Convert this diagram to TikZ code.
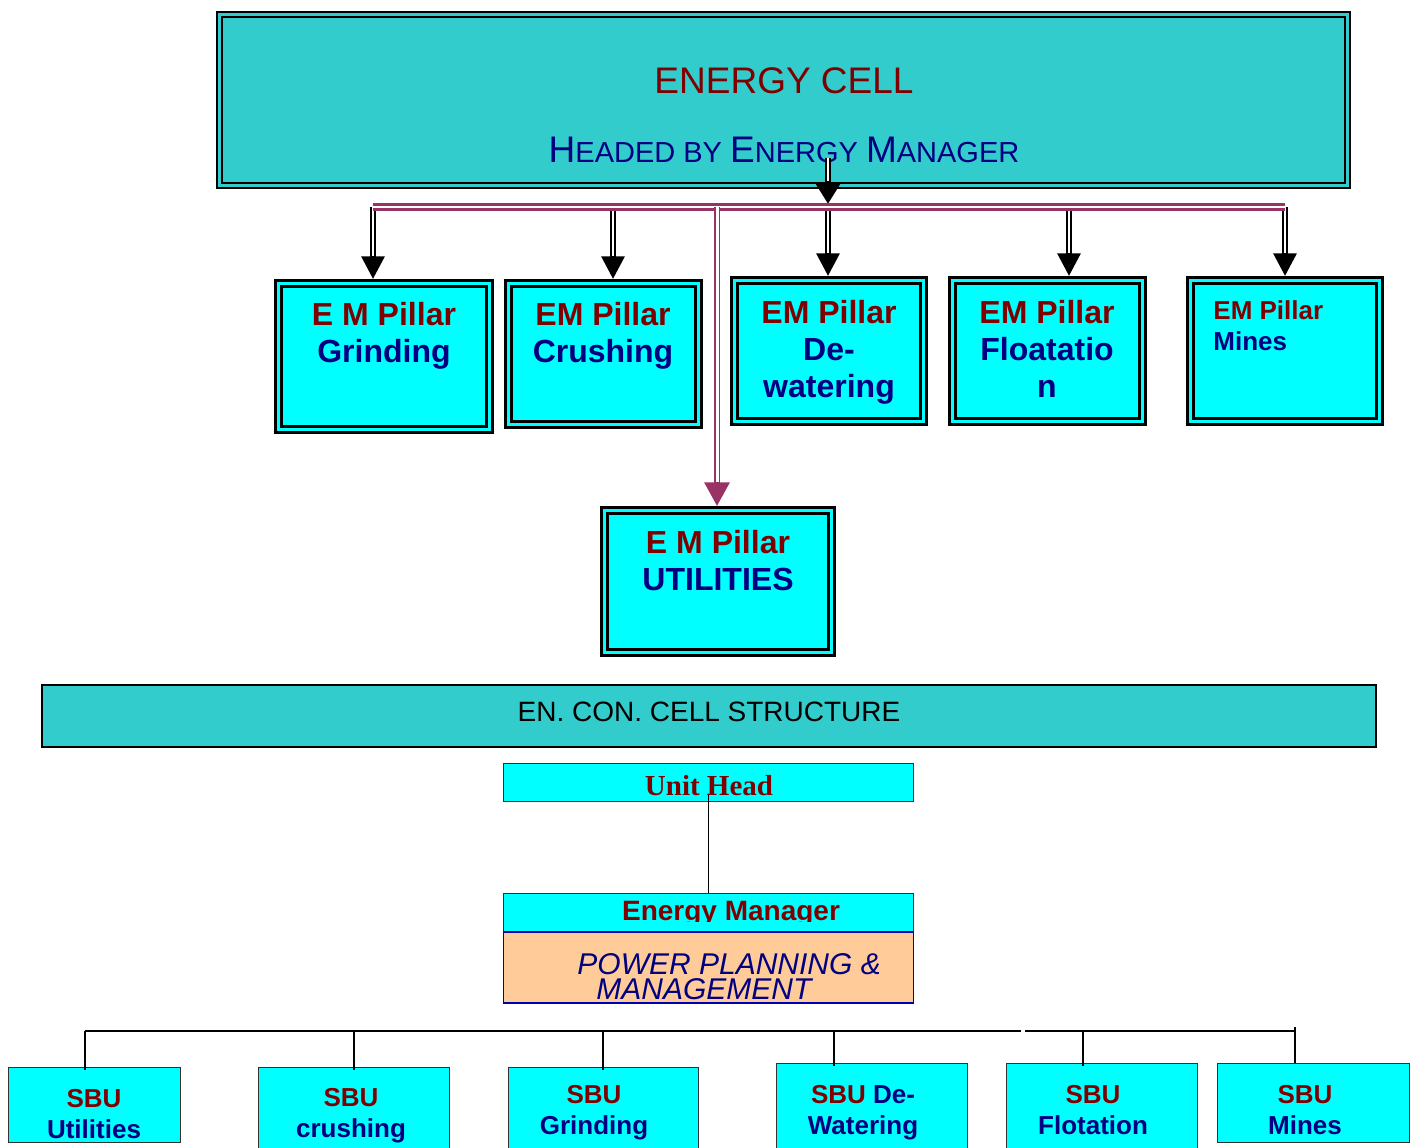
\documentclass[tikz,border=0pt]{standalone}
\usepackage{fontspec}
\setmainfont{Liberation Sans}
\newfontfamily\serifhead{Liberation Serif}
\usetikzlibrary{arrows.meta}

\definecolor{cellteal}{RGB}{51,204,204}
\definecolor{pillcyan}{RGB}{0,255,255}
\definecolor{emred}{RGB}{128,0,0}
\definecolor{emblue}{RGB}{0,0,128}
\definecolor{linkpurple}{RGB}{153,51,102}
\definecolor{peach}{RGB}{255,204,153}

\newcommand\redline[1]{\textcolor{emred}{#1}}
\newcommand\capl[1]{{\fontsize{18.5}{22}\selectfont #1}}

\tikzset{
  cellbox/.style={draw=black, fill=cellteal, line width=1.2pt, double=cellteal, double distance=1.2pt, inner sep=0pt},
  pillar/.style={draw=black, fill=pillcyan, line width=1.4pt, double=pillcyan, double distance=1.4pt, inner sep=0pt, outer sep=2.1pt},
  barbox/.style={draw=black, fill=cellteal, line width=1pt, inner sep=0pt},
  unitbox/.style={draw=black!80, fill=pillcyan, line width=0.75pt, inner sep=0pt},
  ppmbox/.style={draw=emblue!60!blue, fill=peach, line width=0.75pt, inner sep=0pt},
  sbubox/.style={draw=black!80, fill=pillcyan, line width=0.75pt, inner sep=0pt},
  pilltext/.style={font=\bfseries\fontsize{16}{18.5}\selectfont, text=emblue, align=center, inner sep=0pt, anchor=north},
  sbutext/.style={font=\bfseries\fontsize{13}{15.5}\selectfont, text=emblue, align=center, inner sep=0pt, anchor=north},
  droparrow/.style={draw=black, line width=3.3pt, -{Triangle[length=11.5pt,width=11pt]}, postaction={draw=white, line width=1.1pt, -, shorten >=11.5pt}},
  rail/.style={draw=linkpurple, line width=1.2pt, double=white, double distance=1.4pt},
  railarrow/.style={draw=linkpurple, line width=3pt, -{Triangle[length=12pt,width=12pt]}, postaction={draw=white, line width=1.5pt, -, shorten >=12pt}},
  treeline/.style={draw=black, line width=0.75pt}
}

\begin{document}
\begin{tikzpicture}[x=0.5pt, y=-0.5pt]
\useasboundingbox (0,0) rectangle (1416,1147);

% energy cell head box
\node[cellbox, minimum width=564pt, minimum height=85.5pt] (cell) at (783.5,100) {};
\node[font=\fontsize{18.5}{22}\selectfont, text=emred, inner sep=0pt, anchor=north] (celltitle) at (784,67) {ENERGY CELL};
\node[font=\fontsize{14.5}{18}\selectfont, text=emblue, inner sep=0pt, anchor=base] (cellhead) at (784,162) {\capl{H}EADED BY \capl{E}NERGY \capl{M}ANAGER};

% pillars
\node[pillar, minimum width=105.5pt, minimum height=73pt] (pgrind) at (384,356.5) {};
\node[pillar, minimum width=95pt, minimum height=70.5pt] (pcrush) at (603.5,354) {};
\node[pillar, minimum width=94.5pt, minimum height=70.5pt] (pdewat) at (829,351) {};
\node[pillar, minimum width=95pt, minimum height=70.5pt] (pfloat) at (1047.5,351) {};
\node[pillar, minimum width=94.5pt, minimum height=70.5pt] (pmines) at (1285,351) {};
\node[pillar, minimum width=113.5pt, minimum height=71pt] (putil) at (718,581.5) {};

\node[pilltext] (pgrind-t) at (384,302) {\redline{E M Pillar}\\Grinding};
\node[pilltext] (pcrush-t) at (603,302) {\redline{EM Pillar}\\Crushing};
\node[pilltext] (pdewat-t) at (829,300) {\redline{EM Pillar}\\De-\\watering};
\node[pilltext] (pfloat-t) at (1047,300) {\redline{EM Pillar}\\Floatatio\\n};
\node[pilltext, font=\bfseries\fontsize{13}{15.5}\selectfont, align=left, anchor=north west] (pmines-t) at (1213,300) {\redline{EM Pillar}\\Mines};
\node[pilltext] (putil-t) at (718,530) {\redline{E M Pillar}\\UTILITIES};

% arrows from the cell
\coordinate (tap) at (828,158);
\coordinate (hub) at (828,204);
\coordinate (railL) at (373,207);
\coordinate (railR) at (1285,207);
\draw[droparrow, -{Triangle[length=10pt,width=11.5pt]}] (tap) -- (hub);
\foreach \x/\b in {373/pgrind,613/pcrush,828/pdewat,1069/pfloat,1285/pmines}
  \draw[droparrow] (\x,0 |- railL) -- (\x,0 |- \b.north);
\draw[rail] (railL) -- (railR);
\draw[railarrow] (717,0 |- railL) -- (717,0 |- putil.north);

% structure bar
\node[barbox, minimum width=667pt, minimum height=31pt] (struct) at (709,716) {};
\node[font=\fontsize{14}{17}\selectfont, inner sep=0pt, anchor=north] (struct-t) at (709,702) {EN. CON. CELL STRUCTURE};

% unit head and energy manager
\node[unitbox, minimum width=205pt, minimum height=19pt] (uhead) at (708.5,782.5) {};
\node[font=\serifhead\bfseries\fontsize{14.5}{17}\selectfont, text=emred, inner sep=0pt, anchor=base] (uhead-t) at (709,795) {Unit Head};
\node[unitbox, minimum width=205pt, minimum height=19pt] (emgr) at (708.5,912.5) {};
\begin{scope}
  \clip (emgr.north west) rectangle ([yshift=5.5pt]emgr.south east);
  \node[font=\bfseries\fontsize{14}{17}\selectfont, text=emred, inner sep=0pt, anchor=base] (emgr-t) at (731,920) {Energy Manager};
\end{scope}
\node[ppmbox, minimum width=205pt, minimum height=35.5pt] (ppm) at (708.5,967.5) {};
\node[font=\itshape\fontsize{15}{12.5}\selectfont, text=emblue, align=left, inner sep=0pt, anchor=north west] (ppm-t) at (577,953) {POWER PLANNING \&\\\hspace*{9.5pt}MANAGEMENT};
\draw[treeline] ([yshift=3.5pt]uhead.south) -- (emgr.north);

% sbu boxes
\node[sbubox, minimum width=86pt, minimum height=37.5pt] (sbu1) at (94.5,1105) {};
\node[sbubox, minimum width=95.5pt, minimum height=42pt] (sbu2) at (354,1109.5) {};
\node[sbubox, minimum width=95pt, minimum height=42pt] (sbu3) at (603.5,1109.5) {};
\node[sbubox, minimum width=95.5pt, minimum height=44pt] (sbu4) at (872,1107.5) {};
\node[sbubox, minimum width=95.5pt, minimum height=44pt] (sbu5) at (1102,1107.5) {};
\node[sbubox, minimum width=96pt, minimum height=39.5pt] (sbu6) at (1313.5,1103) {};

\node[sbutext] (sbu1-t) at (94,1089) {\redline{SBU}\\Utilities};
\node[sbutext] (sbu2-t) at (351,1088) {\redline{SBU}\\crushing};
\node[sbutext] (sbu3-t) at (594,1085) {\redline{SBU}\\Grinding};
\node[sbutext] (sbu4-t) at (863,1085) {\redline{SBU} De-\\Watering};
\node[sbutext] (sbu5-t) at (1093,1085) {\redline{SBU}\\Flotation};
\node[sbutext] (sbu6-t) at (1305,1085) {\redline{SBU}\\Mines};

% bus to sbu boxes
\coordinate (busL) at (85,1031);
\coordinate (gapL) at (1021,1031);
\coordinate (gapR) at (1025,1031);
\coordinate (busR) at (1295,1031);
\coordinate (busTop) at (1295,1027);
\draw[treeline] (busL) -- (gapL);
\draw[treeline] (gapR) -- (busR);
\foreach \x/\b in {85/sbu1,354/sbu2,603/sbu3,834/sbu4,1083/sbu5}
  \draw[treeline, shorten >=-1.5pt] (\x,0 |- busL) -- (\x,0 |- \b.north);
\draw[treeline] (busTop) -- (busTop |- sbu6.north);
\end{tikzpicture}
\end{document}
